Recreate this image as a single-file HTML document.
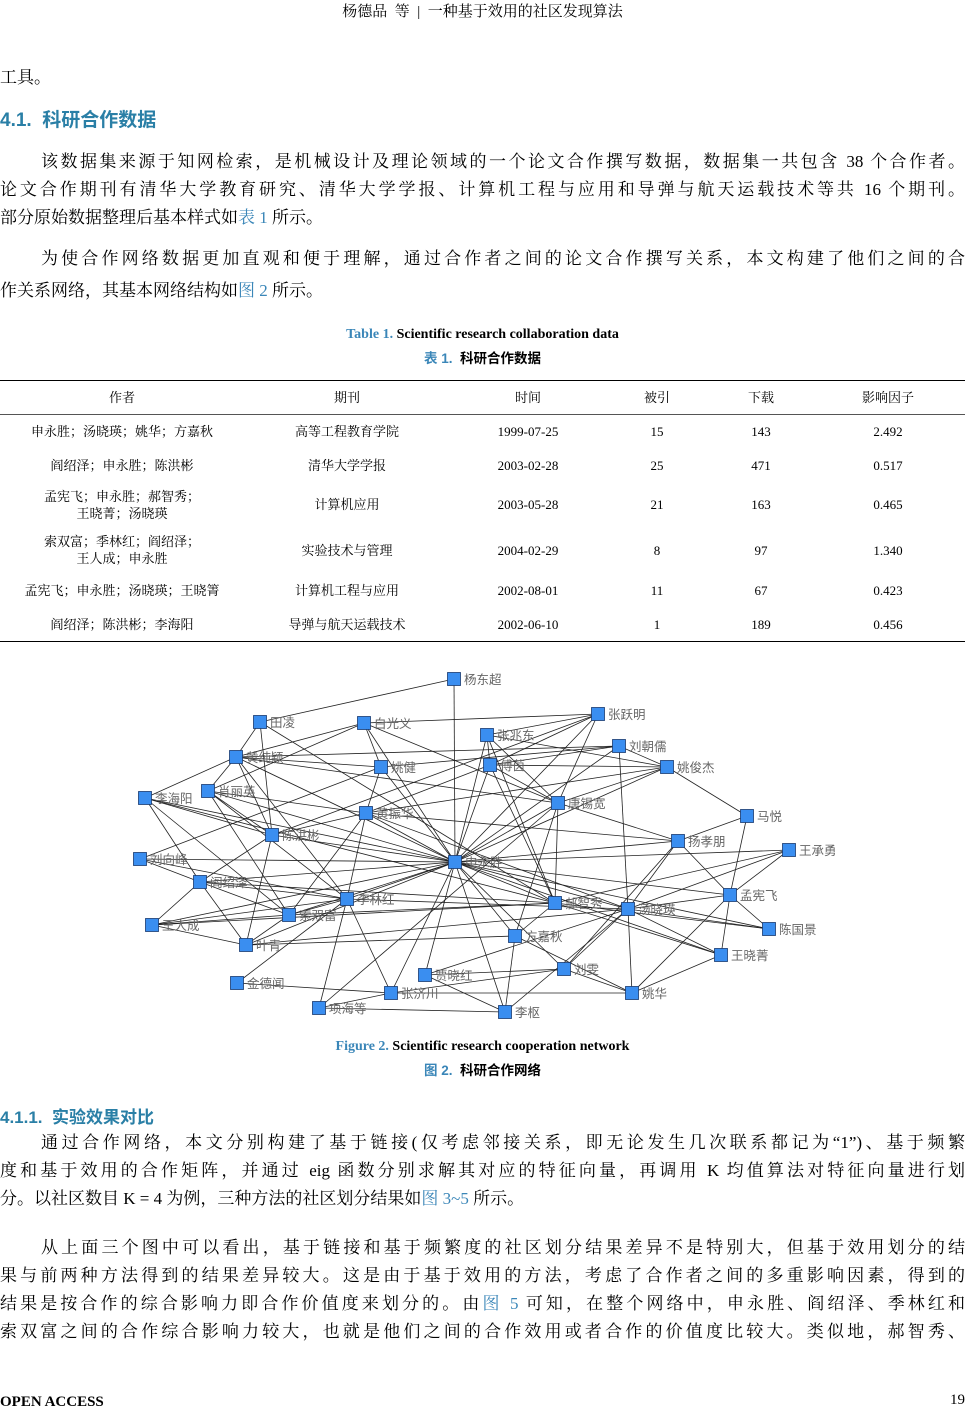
<!DOCTYPE html>
<html><head><meta charset="utf-8">
<style>
body{margin:0;width:965px;height:1412px;position:relative;background:#fff;font-family:"Liberation Serif","Noto Serif CJK SC",serif;color:#000;overflow:hidden}
.a{position:absolute;white-space:nowrap}
.l{position:absolute;left:0;width:965px;font-size:17px;text-align:justify;text-align-last:justify;height:22px;line-height:22px;overflow:visible}
.in{padding-left:41px;width:924px}
.blue{color:#3a86b8}
.h{color:#2a7fa6;font-weight:bold;font-family:"Liberation Sans","Noto Sans CJK SC",sans-serif}
.cap{position:absolute;left:0;width:965px;text-align:center;font-size:14px;font-weight:bold}
.t{position:absolute;font-size:13px;text-align:center;line-height:17px;transform:translateX(-50%)}
.hr{position:absolute;left:0;width:965px;height:1px;background:#000}
</style></head><body>
<div class="a" style="left:0;width:965px;text-align:center;top:0;font-size:15px">杨德品&nbsp; 等 &nbsp;|&nbsp; 一种基于效用的社区发现算法</div>
<div class="a" style="left:0;top:63px;font-size:17px">工具。</div>
<div class="a h" style="left:0;top:105px;font-size:19px">4.1.&nbsp; 科研合作数据</div>
<div class="l in" style="top:151px">该数据集来源于知网检索，是机械设计及理论领域的一个论文合作撰写数据，数据集一共包含 38 个合作者。</div>
<div class="l" style="top:179px">论文合作期刊有清华大学教育研究、清华大学学报、计算机工程与应用和导弹与航天运载技术等共 16 个期刊。</div>
<div class="a" style="left:0;top:207px;font-size:17px;line-height:22px">部分原始数据整理后基本样式如<span class="blue">表 1</span> 所示。</div>
<div class="l in" style="top:248px">为使合作网络数据更加直观和便于理解，通过合作者之间的论文合作撰写关系，本文构建了他们之间的合</div>
<div class="a" style="left:0;top:280px;font-size:17px;line-height:22px">作关系网络，其基本网络结构如<span class="blue">图 2</span> 所示。</div>

<div class="cap" style="top:327px"><span class="blue">Table 1.</span> Scientific research collaboration data</div>
<div class="cap" style="top:347px;font-family:'Liberation Sans','Noto Sans CJK SC',sans-serif;font-size:13.5px"><span class="blue">表 1.</span>&nbsp; 科研合作数据</div>
<div class="hr" style="top:380px"></div>
<div class="hr" style="top:414px;background:#555"></div>
<div class="hr" style="top:641px"></div>
<div class="t" style="left:122px;top:389px">作者</div><div class="t" style="left:347px;top:389px">期刊</div><div class="t" style="left:528px;top:389px">时间</div><div class="t" style="left:657px;top:389px">被引</div><div class="t" style="left:761px;top:389px">下载</div><div class="t" style="left:888px;top:389px">影响因子</div>

<div class="t" style="left:122px;top:423px">申永胜；汤晓瑛；姚华；方嘉秋</div><div class="t" style="left:347px;top:423px">高等工程教育学院</div><div class="t" style="left:528px;top:423px">1999-07-25</div><div class="t" style="left:657px;top:423px">15</div><div class="t" style="left:761px;top:423px">143</div><div class="t" style="left:888px;top:423px">2.492</div>
<div class="t" style="left:122px;top:457px">阎绍泽；申永胜；陈洪彬</div><div class="t" style="left:347px;top:457px">清华大学学报</div><div class="t" style="left:528px;top:457px">2003-02-28</div><div class="t" style="left:657px;top:457px">25</div><div class="t" style="left:761px;top:457px">471</div><div class="t" style="left:888px;top:457px">0.517</div>
<div class="t" style="left:122px;top:488px">孟宪飞；申永胜；郝智秀；<br>王晓菁；汤晓瑛</div><div class="t" style="left:347px;top:496px">计算机应用</div><div class="t" style="left:528px;top:496px">2003-05-28</div><div class="t" style="left:657px;top:496px">21</div><div class="t" style="left:761px;top:496px">163</div><div class="t" style="left:888px;top:496px">0.465</div>
<div class="t" style="left:122px;top:533px">索双富；季林红；阎绍泽；<br>王人成；申永胜</div><div class="t" style="left:347px;top:542px">实验技术与管理</div><div class="t" style="left:528px;top:542px">2004-02-29</div><div class="t" style="left:657px;top:542px">8</div><div class="t" style="left:761px;top:542px">97</div><div class="t" style="left:888px;top:542px">1.340</div>
<div class="t" style="left:122px;top:582px">孟宪飞；申永胜；汤晓瑛；王晓箐</div><div class="t" style="left:347px;top:582px">计算机工程与应用</div><div class="t" style="left:528px;top:582px">2002-08-01</div><div class="t" style="left:657px;top:582px">11</div><div class="t" style="left:761px;top:582px">67</div><div class="t" style="left:888px;top:582px">0.423</div>
<div class="t" style="left:122px;top:616px">阎绍泽；陈洪彬；李海阳</div><div class="t" style="left:347px;top:616px">导弹与航天运载技术</div><div class="t" style="left:528px;top:616px">2002-06-10</div><div class="t" style="left:657px;top:616px">1</div><div class="t" style="left:761px;top:616px">189</div><div class="t" style="left:888px;top:616px">0.456</div>

<svg id="g" class="a" style="left:0;top:0" width="965" height="1412"></svg>

<div class="cap" style="top:1039px"><span class="blue">Figure 2.</span> Scientific research cooperation network</div>
<div class="cap" style="top:1059px;font-family:'Liberation Sans','Noto Sans CJK SC',sans-serif;font-size:13.5px"><span class="blue">图 2.</span>&nbsp; 科研合作网络</div>

<div class="a h" style="left:0;top:1103px;font-size:17px">4.1.1.&nbsp; 实验效果对比</div>
<div class="l in" style="top:1132px">通过合作网络，本文分别构建了基于链接(仅考虑邻接关系，即无论发生几次联系都记为“1”)、基于频繁</div>
<div class="l" style="top:1160px">度和基于效用的合作矩阵，并通过 eig 函数分别求解其对应的特征向量，再调用 K 均值算法对特征向量进行划</div>
<div class="a" style="left:0;top:1188px;font-size:17px;line-height:22px">分。以社区数目 K = 4 为例，三种方法的社区划分结果如<span class="blue">图 3~5</span> 所示。</div>
<div class="l in" style="top:1237px">从上面三个图中可以看出，基于链接和基于频繁度的社区划分结果差异不是特别大，但基于效用划分的结</div>
<div class="l" style="top:1265px">果与前两种方法得到的结果差异较大。这是由于基于效用的方法，考虑了合作者之间的多重影响因素，得到的</div>
<div class="l" style="top:1293px">结果是按合作的综合影响力即合作价值度来划分的。由<span class="blue">图 5</span> 可知，在整个网络中，申永胜、阎绍泽、季林红和</div>
<div class="l" style="top:1321px">索双富之间的合作综合影响力较大，也就是他们之间的合作效用或者合作的价值度比较大。类似地，郝智秀、</div>
<div class="a" style="left:0;top:1394px;font-size:15px;font-weight:bold">OPEN ACCESS</div>
<div class="a" style="right:0;top:1392px;font-size:15px">19</div>

<script>
var N={杨东超:[454,679],田凌:[260,722],白光义:[364,723],张跃明:[598,714],张兆东:[487,735],刘朝儒:[619,746],黄纯颖:[236,757],姚健:[381,767],傅茵:[490,765],姚俊杰:[667,767],李海阳:[145,798],肖丽英:[208,791],唐锡宽:[558,803],黄振华:[366,813],马悦:[747,816],陈洪彬:[272,835],扬孝朋:[678,841],王承勇:[789,850],刘向峰:[140,859],申永胜:[455,862],阎绍泽:[200,882],李林红:[347,899],孟宪飞:[730,895],郝智秀:[555,903],汤晓瑛:[628,909],索双富:[289,915],王人成:[152,925],陈国景:[769,929],方嘉秋:[515,936],叶青:[246,945],王晓菁:[721,955],贾晓红:[425,975],刘雯:[564,969],金德闻:[237,983],张济川:[391,993],姚华:[632,993],项海等:[319,1008],李枢:[505,1012]};
var E=[];
"杨东超 白光义 张跃明 张兆东 刘朝儒 黄纯颖 姚健 傅茵 姚俊杰 李海阳 肖丽英 唐锡宽 黄振华 陈洪彬 扬孝朋 王承勇 刘向峰 阎绍泽 李林红 孟宪飞 郝智秀 汤晓瑛 索双富 方嘉秋 贾晓红 张济川 李枢 刘雯 陈国景 王晓菁 叶青 王人成".split(" ").forEach(function(n){E.push(["申永胜",n]);});
"田凌-杨东超 田凌-黄纯颖 田凌-陈洪彬 田凌-郝智秀 白光义-黄纯颖 白光义-姚健 白光义-唐锡宽 白光义-肖丽英 白光义-张跃明 黄纯颖-姚健 黄纯颖-李海阳 黄纯颖-唐锡宽 黄纯颖-刘朝儒 黄纯颖-陈洪彬 黄纯颖-李林红 黄纯颖-肖丽英 肖丽英-黄振华 肖丽英-陈洪彬 肖丽英-索双富 肖丽英-李林红 李海阳-阎绍泽 李海阳-陈洪彬 李海阳-郝智秀 李海阳-索双富 刘向峰-阎绍泽 刘向峰-李林红 刘向峰-姚健 阎绍泽-陈洪彬 阎绍泽-索双富 阎绍泽-叶青 阎绍泽-王人成 阎绍泽-李林红 阎绍泽-郝智秀 王人成-索双富 王人成-李林红 王人成-叶青 王人成-郝智秀 叶青-陈洪彬 叶青-索双富 叶青-汤晓瑛 索双富-黄振华 索双富-李林红 索双富-郝智秀 李林红-黄振华 李林红-张济川 李林红-项海等 李林红-汤晓瑛 金德闻-张济川 金德闻-李林红 项海等-李枢 项海等-张济川 项海等-唐锡宽 张济川-姚华 张济川-刘雯 贾晓红-刘雯 贾晓红-李枢 贾晓红-汤晓瑛 李枢-方嘉秋 李枢-汤晓瑛 方嘉秋-郝智秀 方嘉秋-唐锡宽 方嘉秋-姚华 方嘉秋-叶青 刘雯-汤晓瑛 刘雯-姚华 刘雯-扬孝朋 姚华-汤晓瑛 姚华-孟宪飞 姚华-王晓菁 汤晓瑛-刘朝儒 汤晓瑛-扬孝朋 汤晓瑛-陈国景 汤晓瑛-王晓菁 汤晓瑛-孟宪飞 汤晓瑛-王承勇 郝智秀-唐锡宽 郝智秀-傅茵 郝智秀-王晓菁 郝智秀-陈国景 郝智秀-王承勇 孟宪飞-马悦 孟宪飞-陈国景 孟宪飞-王晓菁 孟宪飞-扬孝朋 孟宪飞-王承勇 马悦-姚俊杰 马悦-扬孝朋 扬孝朋-唐锡宽 扬孝朋-黄振华 姚俊杰-傅茵 姚俊杰-唐锡宽 姚俊杰-张兆东 姚俊杰-刘朝儒 姚俊杰-黄振华 张跃明-张兆东 张跃明-唐锡宽 张跃明-傅茵 张兆东-傅茵 张兆东-唐锡宽 张兆东-郝智秀 刘朝儒-姚健 刘朝儒-傅茵 傅茵-唐锡宽 傅茵-黄振华 姚健-黄振华 陈洪彬-黄振华 陈洪彬-张跃明 黄振华-汤晓瑛".split(" ").forEach(function(p){E.push(p.split("-"));});
var s="";
E.forEach(function(e){var a=N[e[0]],b=N[e[1]];s+='<line x1="'+a[0]+'" y1="'+a[1]+'" x2="'+b[0]+'" y2="'+b[1]+'" stroke="#222" stroke-width="0.8"/>';});
for(var k in N){var p=N[k];s+='<rect x="'+(p[0]-6.5)+'" y="'+(p[1]-6.5)+'" width="13" height="13" fill="#3a8ef0" stroke="#1a3a70" stroke-width="0.8"/>';}
for(var k in N){var p=N[k];s+='<text x="'+(p[0]+10)+'" y="'+(p[1]+5)+'" font-size="12.5" fill="#666" font-family="Liberation Sans,Noto Sans CJK SC,sans-serif">'+k+'</text>';}
document.getElementById("g").innerHTML=s;
</script>
</body></html>
